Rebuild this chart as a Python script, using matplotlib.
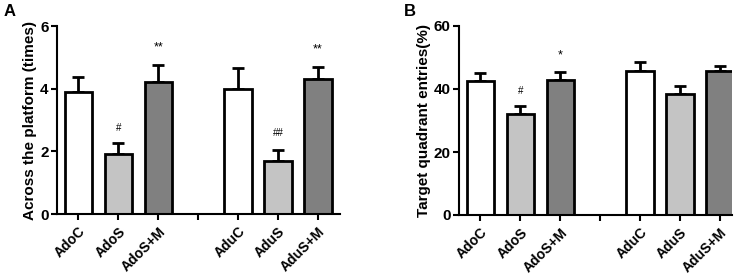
import numpy as np
import matplotlib.pyplot as plt

plt.rcParams['font.family'] = ['Liberation Sans', 'DejaVu Sans']
plt.rcParams['font.weight'] = 'bold'

groups = ["AdoC", "AdoS", "AdoS+M", "AduC", "AduS", "AduS+M"]
positions = [0, 1, 2, 4, 5, 6]
colors = ["#ffffff", "#c4c4c4", "#808080", "#ffffff", "#c4c4c4", "#808080"]

a_means = [3.9, 1.9, 4.2, 4.0, 1.7, 4.3]
a_err = [0.47, 0.37, 0.57, 0.67, 0.35, 0.38]
a_marks = ["", "#", "**", "", "##", "**"]
a_mark_y = [0, 2.75, 5.3, 0, 2.6, 5.25]

b_means = [42.5, 32.0, 42.9, 45.7, 38.5, 45.7]
b_err = [2.5, 2.7, 2.4, 2.8, 2.5, 1.6]
b_marks = ["", "#", "*", "", "", ""]
b_mark_y = [0, 39.5, 50.5, 0, 0, 0]

fig = plt.figure(figsize=(7.46, 2.8), dpi=100)
ax1 = fig.add_axes([57/746, 66/280, 283/746, 188/280])
ax2 = fig.add_axes([459/746, 65/280, 273/746, 189/280])


def draw(ax, means, err, marks, mark_y, ymax, yticks, ylabel, letter, lx):
    ax.bar(positions, means, width=0.68, color=colors, edgecolor="black", linewidth=2.0, zorder=2)
    ax.errorbar(positions, means, yerr=[np.zeros(len(err)), err], fmt="none",
                ecolor="black", elinewidth=2.0, capsize=4.5, capthick=2.0, zorder=1)
    for p, m, y in zip(positions, marks, mark_y):
        if m:
            fs = 7 if m.startswith("#") else 9
            ax.text(p, y, m, ha="center", va="center", fontsize=fs, fontweight="normal")
    ax.set_xlim(-0.53, positions[-1] + (0.55 if ymax < 10 else 0.3))
    ax.set_ylim(0, ymax)
    ax.set_yticks(yticks)
    ax.set_xticks([0, 1, 2, 3, 4, 5, 6])
    ax.set_xticklabels(groups[:3] + [""] + groups[3:], rotation=45, ha="right",
                       rotation_mode="anchor", fontsize=10, fontweight="bold")
    ax.tick_params(axis="y", labelsize=11, width=1.5, length=4, pad=2)
    ax.tick_params(axis="x", width=1.5, length=4)
    for lab in ax.get_yticklabels():
        lab.set_fontweight("bold")
    ax.spines["top"].set_visible(False)
    ax.spines["right"].set_visible(False)
    ax.spines["left"].set_linewidth(1.5)
    ax.spines["bottom"].set_linewidth(1.5)
    ax.set_ylabel(ylabel, fontsize=11, fontweight="bold", labelpad=2)
    fig.text(lx, 1 - 11/280, letter, fontsize=12, fontweight="bold", va="center", ha="left")


draw(ax1, a_means, a_err, a_marks, a_mark_y, 6, [0, 2, 4, 6],
     "Across the platform (times)", "A", 4/746)
draw(ax2, b_means, b_err, b_marks, b_mark_y, 60, [0, 20, 40, 60],
     "Target quadrant entries(%)", "B", 404/746)

fig.savefig("out.png", dpi=100)
